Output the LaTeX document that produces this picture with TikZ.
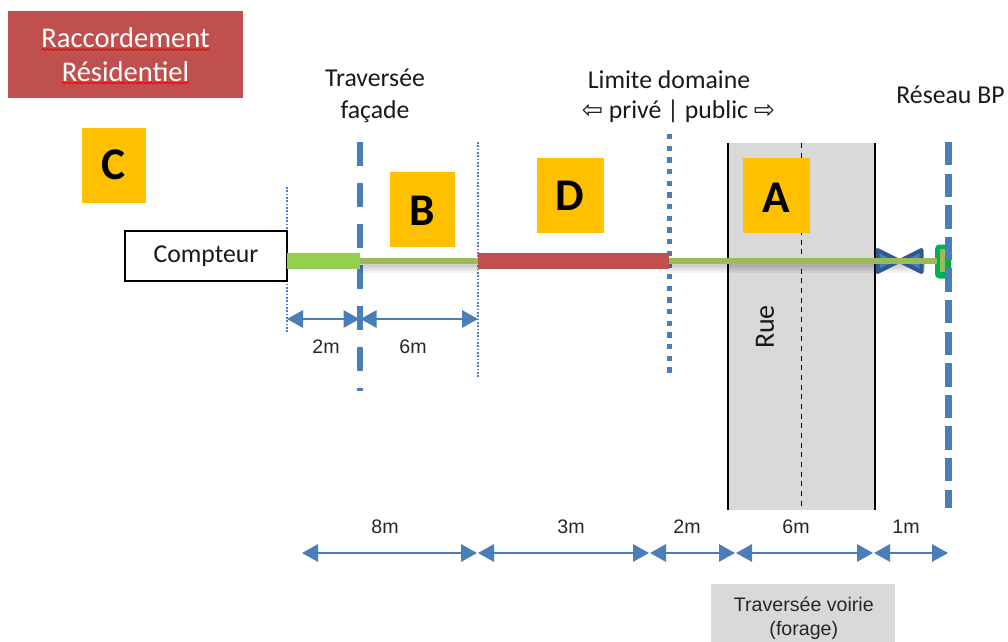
\documentclass[tikz,border=0pt]{standalone}
\usepackage{fontspec}
\setmainfont{Carlito}
\newfontfamily\arialf{Liberation Sans}
\newfontfamily\symf{DejaVu Sans}
\usetikzlibrary{arrows.meta,decorations.pathmorphing,calc}
\definecolor{blueL}{HTML}{4A7EBB}
\definecolor{redB}{HTML}{C0504D}
\definecolor{greenB}{HTML}{92D050}
\definecolor{oliveB}{HTML}{9BBB59}
\definecolor{orangeB}{HTML}{FFC000}
\definecolor{grayB}{HTML}{D9D9D9}
\definecolor{valveD}{HTML}{2C5A91}
\definecolor{valveL}{HTML}{4A7EBB}
\definecolor{greenC}{HTML}{00B050}
\tikzset{
  x=.75pt,y=-.75pt,
  every node/.style={inner sep=0pt,outer sep=0pt},
  px/.style={line width=#1*.75pt},
  letterbox/.style={fill=orangeB,anchor=north west},
  letter/.style={font=\fontsize{34}{34}\selectfont\bfseries},
  calib/.style={align=center,text=black!90,font=\fontsize{19.3}{24}\selectfont},
  dimlabel/.style={text=black!85,font=\arialf\fontsize{14.7}{18}\selectfont},
  dimarrow/.style={draw=blueL,px=2,{Triangle[length=12pt,width=13pt]}-{Triangle[length=12pt,width=13pt]}},
  thindot/.style={draw=blueL,px=2,dash pattern=on 1.25pt off 1.25pt},
  dashA/.style={draw=blueL,px=6,dash pattern=on 18pt off 12.75pt},
  dashB/.style={draw=blueL,px=7,dash pattern=on 17.5pt off 6.2pt},
  dotline/.style={draw=blueL,px=5.5,dash pattern=on 4pt off 4.75pt},
  bar/.style={line width=12pt},
  pipe/.style={draw=oliveB,px=6},
  squiggle/.style={draw=red,px=1.1,decorate,decoration={snake,amplitude=.5pt,segment length=3pt}},
}
\begin{document}
\begin{tikzpicture}
\useasboundingbox (0,0) rectangle (1008,642);
% Rue
\node[fill=grayB,minimum width=110.25pt,minimum height=275.25pt,anchor=north west] (rue) at (728,143) {};
\draw[black,px=1,dash pattern=on 3.75pt off 3.5pt] ($(rue.north)+(-.5,0)$) -- ($(rue.south)+(-.5,0)$);
\draw[black,px=2.5] (rue.north west) -- (rue.south west);
\draw[black,px=2.5] (rue.north east) -- (rue.south east);
% verticals
\coordinate (fa1) at (360,142); \coordinate (fa2) at (360,391);
\coordinate (bp1) at (948,142); \coordinate (bp2) at (948,508);
\coordinate (dm1) at (669.7,134); \coordinate (dm2) at (669.7,373);
\coordinate (t1a) at (287,187);   \coordinate (t1b) at (287,333);
\coordinate (t2a) at (478,142);   \coordinate (t2b) at (478,378);
\draw[dashA] (fa1) -- (fa2);
\draw[dotline] (dm1) -- (dm2);
\draw[thindot] (t1a) -- (t1b);
\draw[thindot] (t2a) -- (t2b);
% letter boxes
\node[letterbox,minimum width=48pt,minimum height=56.5pt] (C) at (82,128) {};
\node[letterbox,minimum width=48.75pt,minimum height=56pt] (B) at (390,172) {};
\node[letterbox,minimum width=50.25pt,minimum height=56pt] (D) at (537,158) {};
\node[letterbox,minimum width=50.25pt,minimum height=56pt] (A) at (743,158) {};
\node[letter] (Ct) at (113,165) {C};
\node[letter] (Bt) at (422,211) {B};
\node[letter] (Dt) at (570,196) {D};
\node[letter] (At) at (776,198) {A};
% title
\node[fill=redB,text=white,minimum width=176.25pt,minimum height=65.25pt,anchor=north west,align=center,font=\fontsize{21.4}{25.5}\selectfont] (title) at (8,11) {Raccordement\\Résidentiel};
\draw[squiggle] (42,49.5) -- (210,49.5);
\draw[squiggle] (62,83) -- (189,83);
% meter
\node[draw=black,px=2,fill=white,minimum width=121.5pt,minimum height=37.5pt,anchor=north west,calib] (cpt) at (125,231) {Compteur};
% shadow
\foreach \h in {3,5,7,9}{
  \fill[black,opacity=.05] (360,264) rectangle (478,264+\h);
  \fill[black,opacity=.05] (669,264) rectangle (925,264+\h);
}
% valve
\coordinate (valve) at (899.5,261);
\draw[draw=valveD,fill=valveL,px=4,line join=round] (877.5,250) -- (valve) -- (921.5,250) -- (921.5,272) -- (valve) -- (877.5,272) -- cycle;
% connector end
\node[draw=greenC,fill=greenC,px=4,rounded corners=2pt,minimum width=9pt,minimum height=22.5pt,anchor=north west] (conn) at (937,246.5) {};
\node[fill=oliveB,minimum width=4pt,minimum height=17pt,anchor=north west] (conninner) at (940,249) {};
\draw[dashB] (bp1) -- (bp2);
% pipe
\coordinate (p0) at (287,261); \coordinate (p1) at (360,261); \coordinate (p2) at (478,261);
\coordinate (p3) at (669,261); \coordinate (p4) at (937,261);
\draw[greenB,bar] (p0) -- (p1);
\draw[pipe] (p1) -- (p2);
\draw[redB,bar] (p2) -- (p3);
\draw[pipe] (p3) -- (p4);
% dims row 1
\coordinate (a0) at (287,319); \coordinate (a1) at (359.5,319); \coordinate (a2) at (360.5,319); \coordinate (a3) at (478,319);
\draw[dimarrow] (a0) -- (a1);
\draw[dimarrow] (a2) -- (a3);
\node[dimlabel] (l2m) at (326,347) {2m};
\node[dimlabel] (l6m) at (413,347) {6m};
% dims row 2
\coordinate (b0) at (302,553); \coordinate (b1) at (477,553); \coordinate (b2) at (478,553); \coordinate (b3) at (649,553);
\coordinate (b4) at (650,553); \coordinate (b5) at (735,553); \coordinate (b6) at (736,553); \coordinate (b7) at (873,553);
\coordinate (b8) at (874,553); \coordinate (b9) at (948,553);
\draw[dimarrow] (b0) -- (b1);
\draw[dimarrow] (b2) -- (b3);
\draw[dimarrow] (b4) -- (b5);
\draw[dimarrow] (b6) -- (b7);
\draw[dimarrow] (b8) -- (b9);
\node[dimlabel] (l8m) at (385,526.5) {8m};
\node[dimlabel] (l3m) at (571,526.5) {3m};
\node[dimlabel] (l2n) at (687,526.5) {2m};
\node[dimlabel] (l6n) at (796,526.5) {6m};
\node[dimlabel] (l1m) at (906,526.5) {1m};
% bottom box
\node[fill=grayB,minimum width=138pt,minimum height=43.5pt,anchor=north west] (voirie) at (711,584) {};
\node[align=center,text=black!85,font=\arialf\fontsize{14.7}{18}\selectfont] (voirietxt) at (803.8,618) {Traversée voirie\\(forage)};
% labels
\node[calib] (fac) at (375,95.5) {Traversée\\façade};
\node[calib] (lim) at (669,80) {Limite domaine};
\node[calib] (pp) at (678.5,111) {{\symf\fontsize{19}{15.5}\selectfont ⇦} privé | public {\symf\fontsize{19}{15.5}\selectfont ⇨}};
\node[calib] (bp) at (950.5,95) {Réseau BP};
\node[calib,rotate=90,font=\fontsize{21}{24}\selectfont] (ruelab) at (765,327) {Rue};
\end{tikzpicture}
\end{document}
